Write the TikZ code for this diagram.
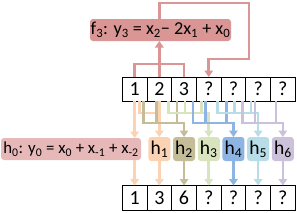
\documentclass[tikz,border=0pt]{standalone}
\usepackage{fontspec}
\setmainfont{Carlito}
\usetikzlibrary{arrows.meta,calc}
\definecolor{fcol}{HTML}{D99694}
\definecolor{hzero}{HTML}{E6B9B8}
\definecolor{peachc}{HTML}{FBD3B2}
\definecolor{olivec}{HTML}{C4BD97}
\definecolor{greenc}{HTML}{D7E4BD}
\definecolor{bluec}{HTML}{8EB4E3}
\definecolor{lbluec}{HTML}{B7DEE8}
\definecolor{purplec}{HTML}{CCC1DA}
\tikzset{
  cell/.style={draw=black,line width=0.9pt,minimum width=24.7pt,minimum height=24pt,inner sep=0pt,outer sep=0pt,font=\fontsize{20}{22}\selectfont},
  hbox/.style={rounded corners=3pt,minimum width=22pt,minimum height=24pt,inner sep=0pt,outer sep=0pt,font=\fontsize{19.5}{22}\selectfont},
  fbox/.style={rounded corners=3pt,inner sep=0pt,outer sep=0pt,font=\fontsize{18.2}{22}\selectfont},
  conn/.style={line width=2.6pt},
  arr/.style={-{Triangle[width=8.5pt,length=6.5pt]}}
}
\begin{document}
\begin{tikzpicture}[x=1pt,y=-1pt]
\useasboundingbox (0,0) rectangle (297,212);
\fill[white] (0,0) rectangle (297,212);
% cells
\foreach \i/\t in {1/1,2/2,3/3,4/?,5/?,6/?,7/?}
  \node[cell] (t\i) at ({122.3+24.7*(\i-0.5)},89) {\t};
\foreach \i/\t in {1/1,2/3,3/6,4/?,5/?,6/?,7/?}
  \node[cell,minimum height=25pt] (b\i) at ({122.3+24.7*(\i-0.5)},198) {\t};
% h boxes
\node[hbox,fill=hzero,minimum width=140pt,minimum height=22pt,font=\fontsize{16.8}{20}\selectfont] (h0) at (71,149)
  {h\textsubscript{0}: y\textsubscript{0} = x\textsubscript{0} + x\textsubscript{-1} + x\textsubscript{-2}};
\foreach \k/\col in {1/peachc,2/olivec,3/greenc,4/bluec,5/lbluec,6/purplec}{
  \pgfmathtruncatemacro\mm{\k+1}
  \node[hbox,fill=\col] (h\k) at ({122.3+24.7*(\mm-0.5)},149) {h\textsubscript{\k}};
}
% f3 box
\node[fbox,fill=fcol,minimum width=141pt,minimum height=22pt] (f3) at (160.5,30)
  {f\textsubscript{3}: y\textsubscript{3} = x\textsubscript{2}− 2x\textsubscript{1} + x\textsubscript{0}};
% f3 connectors
\coordinate (fbar) at (0,64);
\coordinate (fbA) at (249,3);
\coordinate (fbB) at (249,59);
\draw[conn,fcol] (t1.north) -- (t1.north |- fbar) -- (t3.north |- fbar) -- (t3.north);
\draw[conn,fcol,arr] (t2.north) -- (t2.north |- f3.south);
\draw[conn,fcol,arr] (t2.north |- f3.north) |- (fbA) -- (fbB) -| (t4.north);
% h0 connectors
\draw[conn,peachc,arr] (t1.south) -- (t1.south |- h0.north);
\draw[conn,peachc,arr] (t1.south |- h0.south) -- (b1.north);
% h1 connectors
\coordinate (barA) at (0,113);
\coordinate (barB) at (0,123);
\draw[conn,peachc] ($(t1.south)+(5,0)$) coordinate (p1) -- (p1 |- barA) -- (h1.north |- barA);
\draw[conn,peachc,arr] (t2.south) -- (h1.north);
% h2..h6 connectors
\foreach \k/\col/\by/\o in {2/olivec/123/-3,3/greenc/113/1,4/bluec/123/-3,5/lbluec/113/1,6/purplec/123/-3}{
  \pgfmathtruncatemacro\a{\k-1}
  \pgfmathtruncatemacro\mm{\k+1}
  \coordinate (bar) at (0,\by);
  \draw[conn,\col] ($(t\k.south)+(\o,0)$) coordinate (p) -- (p |- bar);
  \draw[conn,\col] ($(t\mm.south)+(-7,0)$) coordinate (q) -- (q |- bar);
  \draw[conn,\col,arr] ($(t\a.south)+(9,0)$) coordinate (r) -- (r |- bar) -- (h\k.north |- bar) -- (h\k.north);
}
% outputs
\foreach \k/\col in {1/peachc,2/olivec,3/greenc,4/bluec,5/lbluec,6/purplec}{
  \pgfmathtruncatemacro\mm{\k+1}
  \draw[conn,\col,arr] (h\k.south) -- (b\mm.north);
}
\end{tikzpicture}
\end{document}
